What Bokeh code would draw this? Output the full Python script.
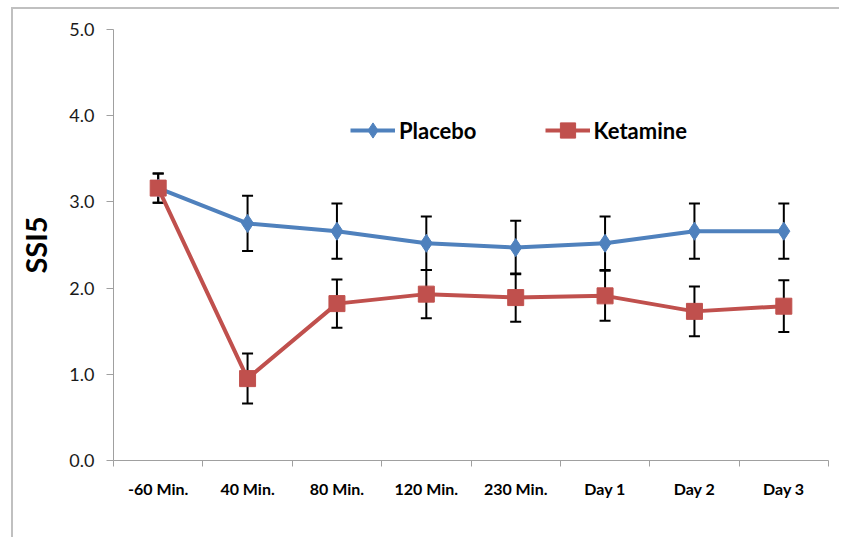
from bokeh.plotting import figure
from bokeh.models import (Range1d, FixedTicker, NumeralTickFormatter, Whisker, TeeHead,
                          ColumnDataSource, Legend, LegendItem)
from bokeh.embed import file_html
from bokeh.resources import INLINE

categories = ["-60 Min.", "40 Min.", "80 Min.", "120 Min.", "230 Min.", "Day 1", "Day 2", "Day 3"]
placebo_mean = [3.16, 2.75, 2.66, 2.52, 2.47, 2.52, 2.66, 2.66]
placebo_se = [0.17, 0.32, 0.32, 0.31, 0.31, 0.31, 0.32, 0.32]
ketamine_mean = [3.16, 0.95, 1.82, 1.93, 1.89, 1.91, 1.73, 1.79]
ketamine_se = [0.17, 0.29, 0.28, 0.28, 0.28, 0.29, 0.29, 0.30]
y_ticks = [0, 1, 2, 3, 4, 5]

BLUE = "#4F81BD"
RED = "#C0504D"
AXIS = "#A0A0A0"

xs = [i + 0.5 for i in range(len(categories))]

p = figure(width=828, height=530, output_backend="svg", toolbar_location=None,
           x_range=Range1d(0, len(categories)), y_range=Range1d(0, 5),
           min_border_left=100, min_border_top=20, min_border_right=13, min_border_bottom=79)
p.outline_line_color = None
p.xgrid.visible = False
p.ygrid.visible = False
p.margin = (7, 0, 0, 11)
p.styles = {"border-left": "2px solid #C0C0C0", "border-top": "2px solid #C0C0C0"}

# x axis
p.xaxis.ticker = FixedTicker(ticks=xs, minor_ticks=list(range(len(categories) + 1)))
p.xaxis.major_label_overrides = {x: c for x, c in zip(xs, categories)}
p.xaxis.major_tick_out = 0
p.xaxis.major_tick_in = 0
p.xaxis.minor_tick_out = 6
p.xaxis.minor_tick_in = 0
p.xaxis.axis_line_color = AXIS
p.xaxis.minor_tick_line_color = AXIS
p.xaxis.major_label_text_font = "Lato"
p.xaxis.major_label_text_font_style = "bold"
p.xaxis.major_label_text_font_size = "16px"
p.xaxis.major_label_text_color = "black"
p.xaxis.major_label_standoff = 12

# y axis
p.yaxis.ticker = FixedTicker(ticks=y_ticks, minor_ticks=[])
p.yaxis.formatter = NumeralTickFormatter(format="0.0")
p.yaxis.major_tick_out = 7
p.yaxis.major_tick_in = 0
p.yaxis.axis_line_color = AXIS
p.yaxis.major_tick_line_color = AXIS
p.yaxis.major_label_text_font = "Lato"
p.yaxis.major_label_text_font_size = "18px"
p.yaxis.major_label_text_color = "#1a1a1a"
p.yaxis.major_label_standoff = 12
p.yaxis.axis_label = "SSI5"
p.yaxis.axis_label_text_font = "Lato"
p.yaxis.axis_label_text_font_style = "bold"
p.yaxis.axis_label_text_font_size = "29px"
p.yaxis.axis_label_text_color = "black"
p.yaxis.axis_label_standoff = 13

# error bars
for mean, se in ((placebo_mean, placebo_se), (ketamine_mean, ketamine_se)):
    src = ColumnDataSource(dict(x=xs,
                                upper=[m + s for m, s in zip(mean, se)],
                                lower=[m - s for m, s in zip(mean, se)]))
    w = Whisker(base="x", upper="upper", lower="lower", source=src,
                line_color="black", line_width=2,
                upper_head=TeeHead(size=11, line_color="black", line_width=2),
                lower_head=TeeHead(size=11, line_color="black", line_width=2),
                level="underlay")
    p.add_layout(w)

pl = p.line(xs, placebo_mean, line_color=BLUE, line_width=4)
ps = p.scatter(xs, placebo_mean, marker="diamond", size=18, fill_color=BLUE, line_color=BLUE)
kl = p.line(xs, ketamine_mean, line_color=RED, line_width=4)
ks = p.scatter(xs, ketamine_mean, marker="square", size=16, fill_color=RED, line_color=RED)

legend = Legend(items=[LegendItem(label="Placebo", renderers=[pl, ps]),
                       LegendItem(label="Ketamine", renderers=[kl, ks])],
                orientation="horizontal", location=(237, 311))
legend.border_line_color = None
legend.background_fill_alpha = 0
legend.padding = 0
legend.margin = 0
legend.spacing = 68
legend.glyph_width = 45
legend.glyph_height = 38
legend.label_standoff = 4
legend.label_text_font = "Lato"
legend.label_text_font_style = "bold"
legend.label_text_font_size = "22px"
legend.label_text_color = "black"
p.add_layout(legend)

open("out.html", "w").write(file_html(p, INLINE))
